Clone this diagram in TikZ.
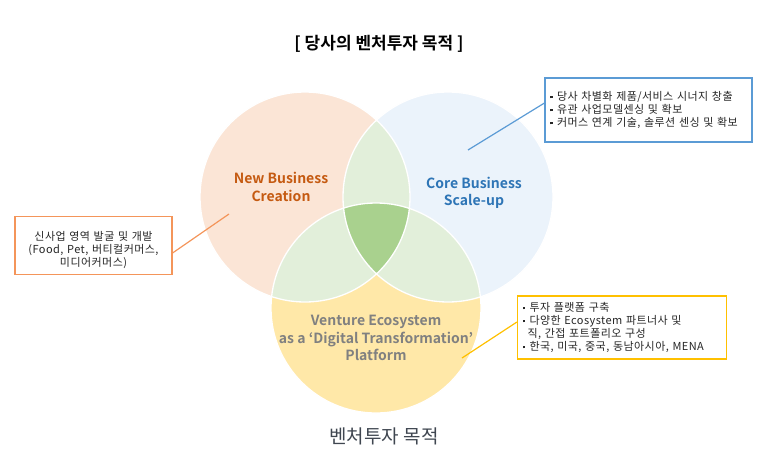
\documentclass[tikz,border=0pt]{standalone}
\usepackage{fontspec}
\setmainfont{Noto Sans CJK KR}[BoldFont={Noto Sans CJK KR Bold}]
\newfontfamily\boxfont{Noto Sans CJK KR}[LetterSpace=4]
\definecolor{peach}{HTML}{FBE5D6}
\definecolor{skyb}{HTML}{EBF3FB}
\definecolor{sand}{HTML}{FFE8A8}
\definecolor{lgreen}{HTML}{E2EFDA}
\definecolor{dgreen}{HTML}{A9D18E}
\definecolor{ortxt}{HTML}{C55A11}
\definecolor{bltxt}{HTML}{2E75B6}
\definecolor{grtxt}{HTML}{808080}
\definecolor{oline}{HTML}{F4955A}
\definecolor{bline}{HTML}{5B9BD5}
\definecolor{yline}{HTML}{FFC000}
\definecolor{bodytxt}{HTML}{262626}
\definecolor{captxt}{HTML}{3F4650}
\tikzset{
  infobox/.style={draw, line width=1.1pt, fill=white, inner xsep=5pt, inner ysep=0pt,
    font=\boxfont\fontsize{11}{13}\selectfont, text=bodytxt},
  boxtext/.style={inner sep=0pt, font=\boxfont\fontsize{11}{13}\selectfont, text=bodytxt},
  link/.style={line width=1.2pt},
  circlab/.style={font=\bfseries\fontsize{14}{17.5}\selectfont, align=center},
}
\newcommand{\bul}{\makebox[7pt][l]{\raisebox{2.2pt}{\rule{2.6pt}{2.6pt}}}}
\begin{document}
\begin{tikzpicture}[x=1pt,y=-1pt]
\useasboundingbox (0,0) rectangle (784,461);
\def\R{105}
\coordinate (L) at (305,197);
\coordinate (Rt) at (448,197);
\coordinate (B) at (376,308);
% base circles
\fill[peach] (L) circle (\R);
\fill[skyb] (Rt) circle (\R);
\fill[sand] (B) circle (\R);
% pairwise overlaps
\begin{scope}\clip (L) circle (\R); \fill[lgreen] (Rt) circle (\R);\end{scope}
\begin{scope}\clip (L) circle (\R); \fill[lgreen] (B) circle (\R);\end{scope}
\begin{scope}\clip (Rt) circle (\R); \fill[lgreen] (B) circle (\R);\end{scope}
\begin{scope}\clip (L) circle (\R); \clip (Rt) circle (\R); \fill[dgreen] (B) circle (\R);\end{scope}
% white outlines
\draw[white, line width=1.3pt] (L) circle (\R) (Rt) circle (\R) (B) circle (\R);
% title and caption
\node[font=\bfseries\fontsize{17}{19}\selectfont] (title) at (379,44) {[ 당사의 벤처투자 목적 ]};
\node[font=\fontsize{19}{21}\selectfont, text=captxt] (cap) at (384,436) {벤처투자 목적};
% circle labels
\node[circlab, text=ortxt] (nbc) at (281,187) {New Business\\Creation};
\node[circlab, text=bltxt] (cbs) at (474,193) {Core Business\\Scale-up};
\node[circlab, text=grtxt] (ves) at (376,338) {Venture Ecosystem\\as a ‘Digital Transformation’\\Platform};
% info boxes
\node[infobox, draw=bline, minimum width=207pt, minimum height=64pt, text width=197pt, align=left] (bbox) at (648.5,110)
 {\bul 당사 차별화 제품/서비스 시너지 창출\\\bul 유관 사업모델센싱 및 확보\\\bul 커머스 연계 기술, 솔루션 센싱 및 확보};
\node[infobox, draw=oline, minimum width=157pt, minimum height=58pt] (obox) at (93.5,245.5) {};
\node[boxtext, align=center, text width=147pt] (otext) at (93.5,250)
 {신사업 영역 발굴 및 개발\\(Food, Pet, 버티컬커머스,\\미디어커머스)};
\node[infobox, draw=yline, minimum width=209pt, minimum height=63pt, text width=199pt, align=left] (ybox) at (622,327.5)
 {\bul 투자 플랫폼 구축\\\bul 다양한 Ecosystem 파트너사 및\\\hspace*{5pt}직, 간접 포트폴리오 구성\\\bul 한국, 미국, 중국, 동남아시아, MENA};
% connector ends
\coordinate (bend) at (468,150);
\coordinate (oend) at (229,214);
\coordinate (yend) at (462,358);
\draw[link, bline] (bend) -- (bbox.west |- 0,103);
\draw[link, oline] (oend) -- (obox.east |- 0,253);
\draw[link, yline] (yend) -- (ybox.west |- 0,322);
\end{tikzpicture}
\end{document}
